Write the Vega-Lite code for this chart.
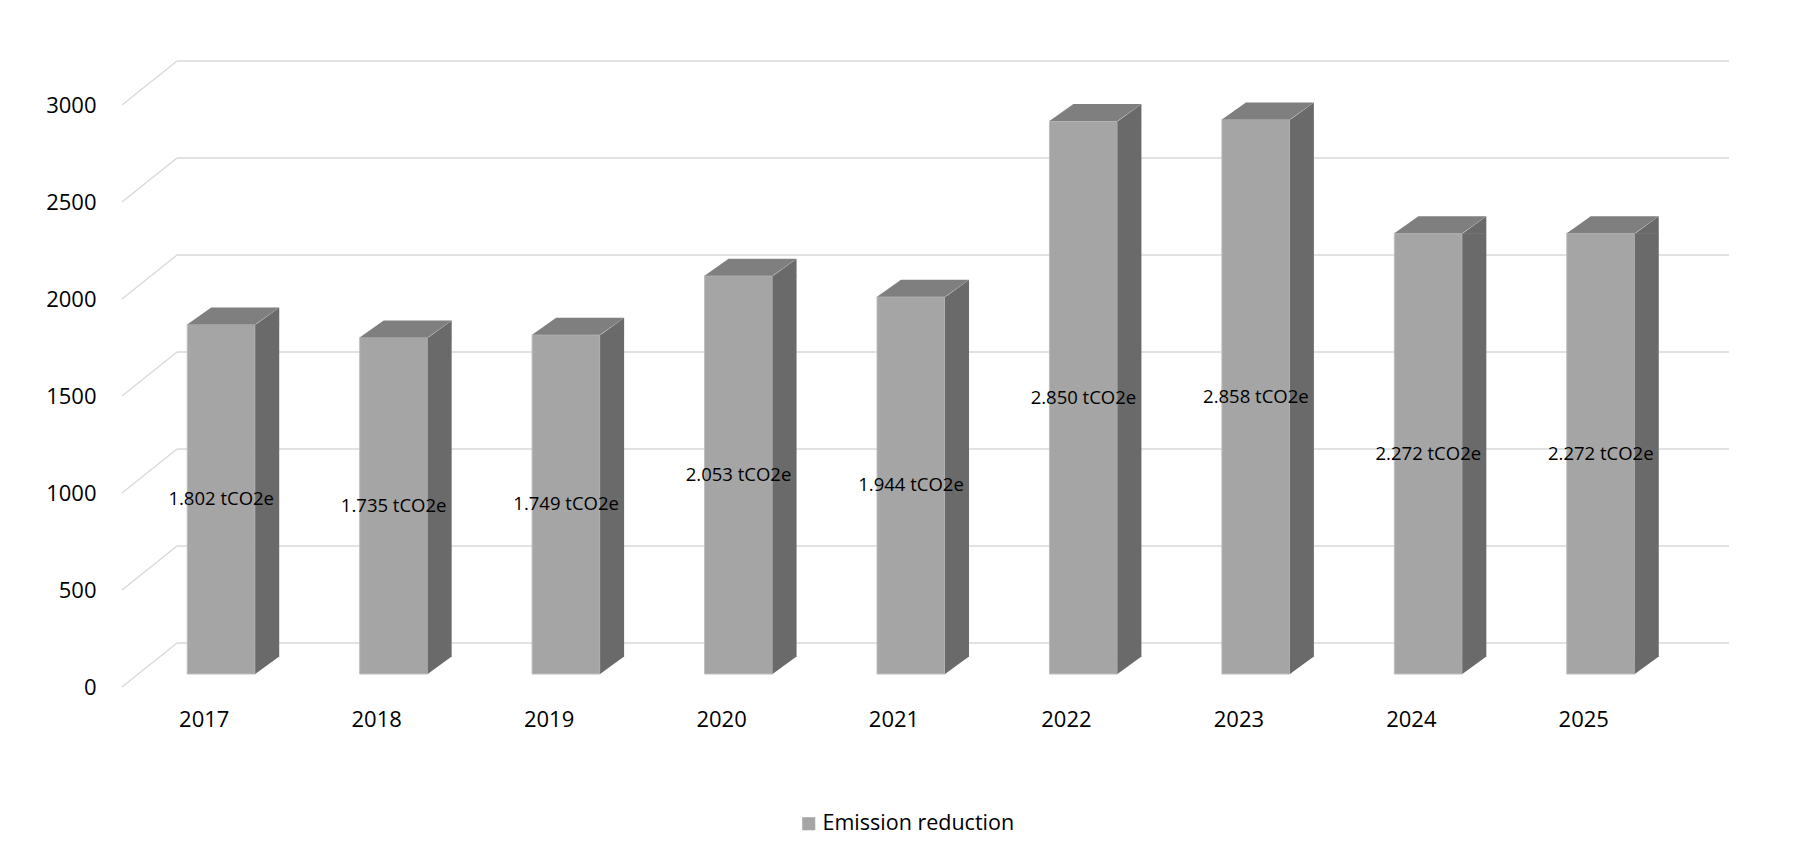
{
  "$schema": "https://vega.github.io/schema/vega-lite/v6.json",
  "description": "Emission reduction per year, 3D-style column chart",
  "width": 1552,
  "height": 582,
  "autosize": {"type": "none"},
  "padding": {"left": 177, "top": 92, "right": 77, "bottom": 182},
  "background": "white",
  "datasets": {
    "bars": [
      {"year": "2017", "value": 1802, "label": "1.802 tCO2e", "series": "Emission reduction"},
      {"year": "2018", "value": 1735, "label": "1.735 tCO2e", "series": "Emission reduction"},
      {"year": "2019", "value": 1749, "label": "1.749 tCO2e", "series": "Emission reduction"},
      {"year": "2020", "value": 2053, "label": "2.053 tCO2e", "series": "Emission reduction"},
      {"year": "2021", "value": 1944, "label": "1.944 tCO2e", "series": "Emission reduction"},
      {"year": "2022", "value": 2850, "label": "2.850 tCO2e", "series": "Emission reduction"},
      {"year": "2023", "value": 2858, "label": "2.858 tCO2e", "series": "Emission reduction"},
      {"year": "2024", "value": 2272, "label": "2.272 tCO2e", "series": "Emission reduction"},
      {"year": "2025", "value": 2272, "label": "2.272 tCO2e", "series": "Emission reduction"}
    ],
    "ticks": [
      {"value": 0}, {"value": 500}, {"value": 1000}, {"value": 1500},
      {"value": 2000}, {"value": 2500}, {"value": 3000}
    ]
  },
  "layer": [
    {
      "layer": [
        {
          "data": {"name": "ticks"},
          "mark": {"type": "rule", "color": "#d9d9d9", "strokeWidth": 1.5, "yOffset": -31},
          "encoding": {
            "y": {"field": "value", "type": "quantitative", "title": null, "scale": {"domain": [0, 3000], "nice": false}}
          }
        },
        {
          "data": {"name": "ticks"},
          "mark": {"type": "point", "shape": "M -55 44 L 0 0", "size": 4, "filled": false, "color": "#d9d9d9", "strokeWidth": 1.5, "opacity": 1, "yOffset": -31},
          "encoding": {
            "x": {"datum": "2017", "type": "ordinal", "bandPosition": 0, "title": null},
            "y": {"field": "value", "type": "quantitative", "title": null}
          }
        },
        {
          "data": {"name": "bars"},
          "mark": {"type": "bar", "width": 68, "xOffset": -42, "stroke": "#bdbdbd", "strokeWidth": 1},
          "encoding": {
            "x": {"field": "year", "type": "ordinal", "title": null, "scale": {"paddingInner": 0, "paddingOuter": 0}},
            "y": {"field": "value", "type": "quantitative", "title": null},
            "color": {
              "field": "series",
              "type": "nominal",
              "scale": {"range": ["#a5a5a5"]},
              "legend": {
                "orient": "none",
                "legendX": 621,
                "legendY": 721,
                "title": null,
                "padding": 0,
                "symbolType": "square",
                "symbolSize": 170,
                "symbolStrokeWidth": 0,
                "labelFont": "Open Sans",
                "labelFontSize": 21.5,
                "labelColor": "#000000",
                "labelOffset": 3,
                "labelLimit": 0
              }
            }
          }
        },
        {
          "data": {"name": "bars"},
          "mark": {"type": "bar", "width": 24, "xOffset": 4, "y2Offset": -17, "color": "#6a6a6a"},
          "encoding": {
            "x": {"field": "year", "type": "ordinal", "title": null},
            "y": {"field": "value", "type": "quantitative", "title": null},
            "y2": {"datum": 0}
          }
        },
        {
          "data": {"name": "bars"},
          "mark": {"type": "point", "shape": "M 34 0.5 L 58 -17 L 58 0.5 Z", "size": 4, "filled": true, "color": "#6a6a6a", "strokeWidth": 0, "opacity": 1, "xOffset": -42},
          "encoding": {
            "x": {"field": "year", "type": "ordinal", "title": null},
            "y": {"field": "value", "type": "quantitative", "title": null}
          }
        },
        {
          "data": {"name": "bars"},
          "mark": {"type": "point", "shape": "M 34 -17.5 L 34 0 L 58 -17.5 Z", "size": 4, "filled": true, "color": "#6a6a6a", "strokeWidth": 0, "opacity": 1, "xOffset": -42},
          "encoding": {
            "x": {"field": "year", "type": "ordinal", "title": null},
            "y": {"datum": 0}
          }
        },
        {
          "data": {"name": "bars"},
          "mark": {"type": "point", "shape": "M -34 0 L 34 0 L 58 -17 L -10 -17 Z", "size": 4, "filled": true, "color": "#7f7f7f", "strokeWidth": 0, "opacity": 1, "xOffset": -42},
          "encoding": {
            "x": {"field": "year", "type": "ordinal", "title": null},
            "y": {"field": "value", "type": "quantitative", "title": null}
          }
        }
      ]
    },
    {
      "data": {"name": "bars"},
      "mark": {"type": "text", "font": "Open Sans", "fontSize": 18.5, "color": "#000000", "xOffset": -42},
      "encoding": {
        "x": {"field": "year", "type": "ordinal", "title": null},
        "y": {"field": "value", "type": "quantitative", "scale": {"domain": [0, 6000], "nice": false}, "axis": null},
        "text": {"field": "label"}
      }
    }
  ],
  "resolve": {"scale": {"y": "independent"}},
  "config": {
    "view": {"stroke": null},
    "axisX": {
      "domain": false,
      "ticks": false,
      "grid": false,
      "labelAngle": 0,
      "labelFont": "Open Sans",
      "labelFontSize": 22,
      "labelColor": "#000000",
      "labelBaseline": "middle",
      "labelPadding": 45,
      "labelOffset": -59
    },
    "axisY": {
      "domain": false,
      "ticks": false,
      "tickSize": 0,
      "grid": false,
      "tickCount": 6,
      "format": "d",
      "labelFont": "Open Sans",
      "labelFontSize": 22,
      "labelColor": "#000000",
      "labelPadding": 81,
      "labelOffset": 13
    }
  }
}
